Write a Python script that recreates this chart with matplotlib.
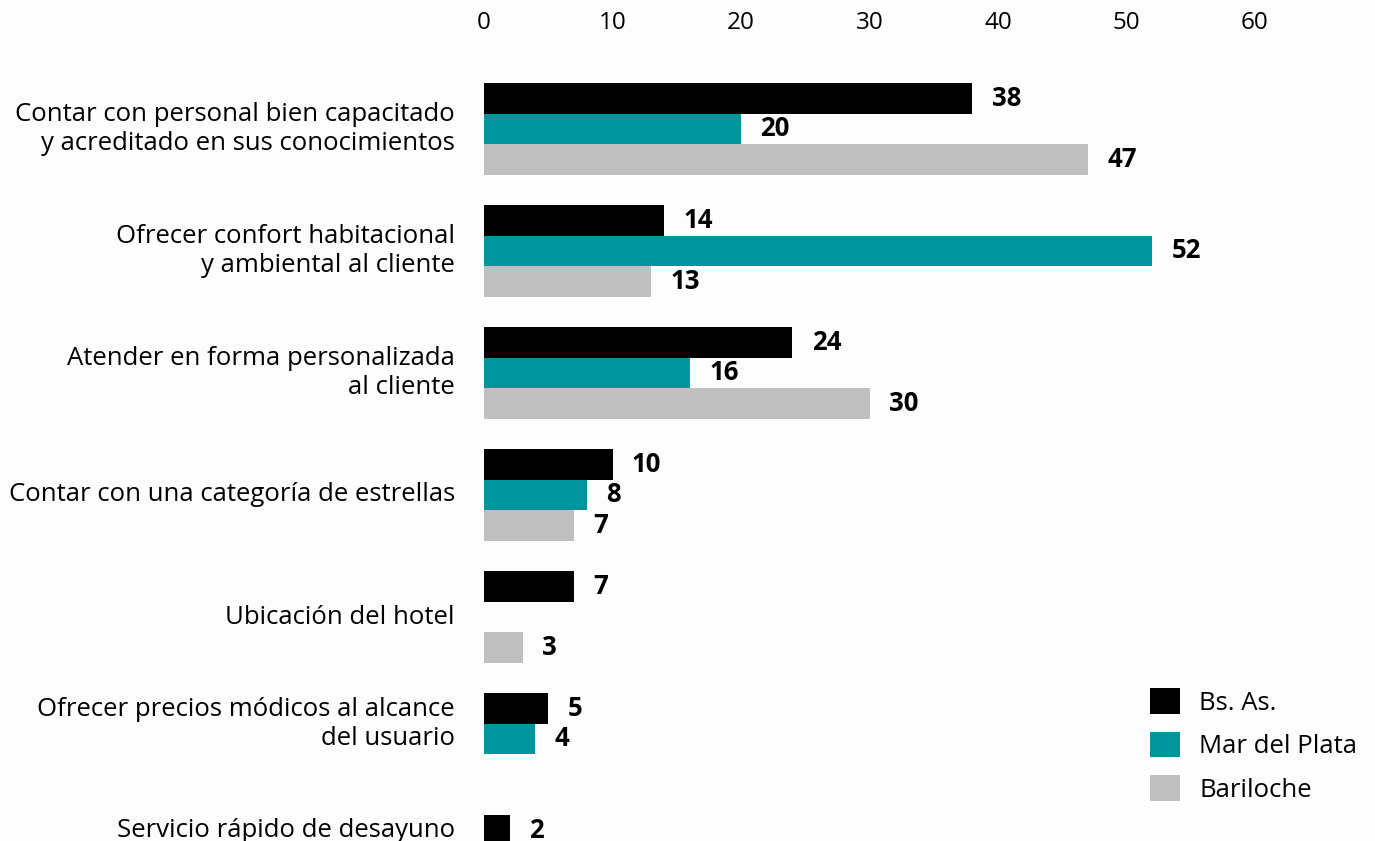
import numpy as np
import matplotlib.pyplot as plt
from matplotlib.patches import Patch

plt.rcParams['font.family'] = ['Open Sans', 'DejaVu Sans']

# Factores valorados por los huéspedes, por ciudad (porcentajes)
categorias = [
    "Contar con personal bien capacitado\ny acreditado en sus conocimientos",
    "Ofrecer confort habitacional\ny ambiental al cliente",
    "Atender en forma personalizada\nal cliente",
    "Contar con una categoría de estrellas",
    "Ubicación del hotel",
    "Ofrecer precios módicos al alcance\ndel usuario",
    "Servicio rápido de desayuno",
]
bs_as = [38, 14, 24, 10, 7, 5, 2]
mar_del_plata = [20, 52, 16, 8, np.nan, 4, np.nan]
bariloche = [47, 13, 30, 7, 3, np.nan, np.nan]

series = ["Bs. As.", "Mar del Plata", "Bariloche"]
colores = ["#000000", "#00959c", "#c0c0c0"]
ticks = [0, 10, 20, 30, 40, 50, 60]

fig = plt.figure(figsize=(13.75, 8.41), dpi=100, facecolor="#fdfdfd")
ax = fig.add_axes([484 / 1375, 0, (1255 - 484) / 1375, 1 - 60 / 841])
ax.set_facecolor("#fdfdfd")

h = 0.252
y0 = np.arange(len(categorias))
datos = [bs_as, mar_del_plata, bariloche]
centros = [[] for _ in categorias]
for k, (vals, col) in enumerate(zip(datos, colores)):
    ys = y0 - h + k * h
    for i, (y, v) in enumerate(zip(ys, vals)):
        if np.isnan(v):
            continue
        ax.barh(y, v, height=h, color=col, edgecolor="none")
        ax.annotate(f"{v:.0f}", (v, y), xytext=(14, 0), textcoords="offset points",
                    va="center", ha="left", fontsize=18.5, fontweight="bold",
                    annotation_clip=False)
        centros[i].append(y)

# Etiquetas de categoría centradas sobre las barras existentes
for i, cat in enumerate(categorias):
    ax.annotate(cat, (0, np.mean(centros[i])), xytext=(-21, 0),
                textcoords="offset points", ha="right", va="center",
                fontsize=18.5, fontweight=500, linespacing=1.2,
                annotation_clip=False)

ax.set_xlim(0, 60)
ax.set_ylim((841 - 129) / 122, (60 - 129) / 122)
ax.set_xticks(ticks)
ax.xaxis.tick_top()
ax.tick_params(axis="x", length=0, pad=18, labelsize=17.5)
ax.set_yticks([])
for s in ax.spines.values():
    s.set_visible(False)

handles = [Patch(facecolor=c, edgecolor="none") for c in colores]
fig.legend(handles, series, loc="upper left",
           bbox_to_anchor=(1150 / 1375, 1 - 688 / 841), frameon=False,
           fontsize=18.5, handlelength=1.17, handleheight=1.17,
           labelspacing=0.62, handletextpad=0.75, borderpad=0, borderaxespad=0)

fig.savefig("out.png", dpi=100, facecolor=fig.get_facecolor())
